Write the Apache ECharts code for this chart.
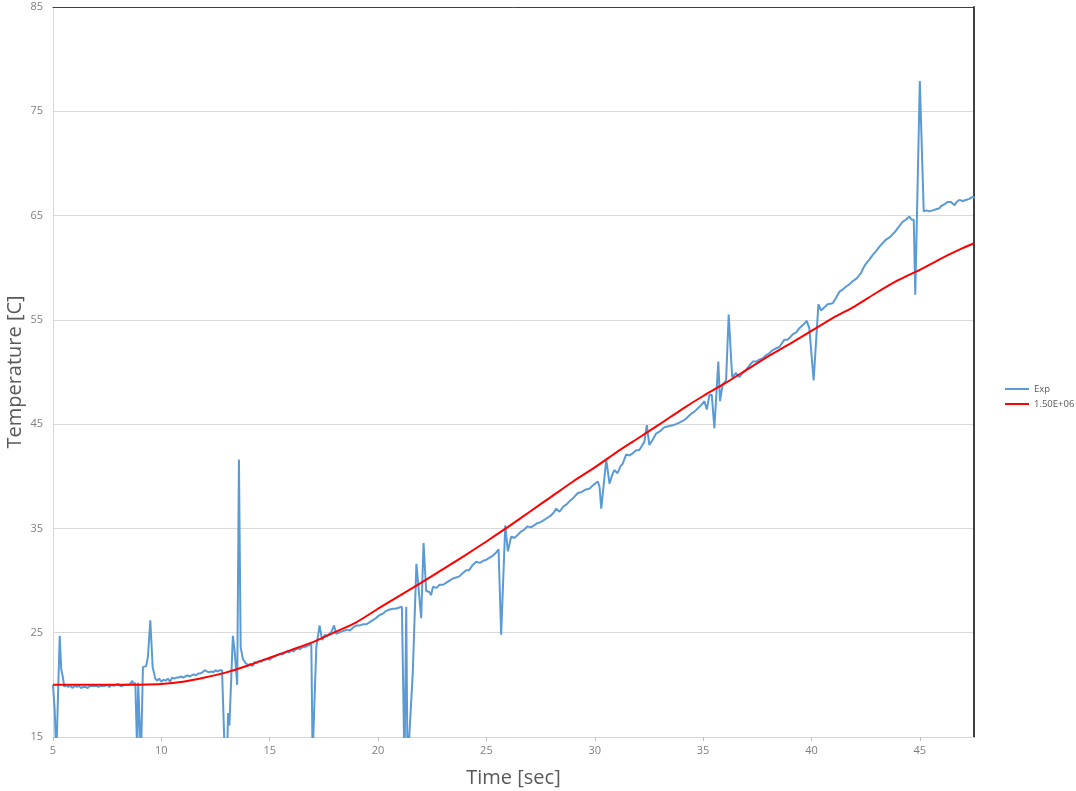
<!DOCTYPE html>
<html>
<head>
<meta charset="utf-8">
<script src="https://cdn.jsdelivr.net/npm/echarts@6/dist/echarts.min.js"></script>
<style>
html,body{margin:0;padding:0;background:#fff;}
#c{width:1076px;height:791px;}
</style>
</head>
<body>
<div id="c"></div>
<script>
// Measured series "Exp": time [s] and temperature [C]
var expTime = [
5.00,5.08,5.15,5.22,5.31,5.38,5.45,5.52,5.60,5.70,5.80,5.90,6.00,6.10,6.20,6.30,6.40,6.50,6.60,6.70,
6.80,6.90,7.00,7.10,7.20,7.30,7.40,7.50,7.60,7.70,7.80,7.90,8.00,8.10,8.20,8.30,8.40,8.50,8.60,8.66,
8.72,8.80,8.84,8.89,8.93,9.02,9.06,9.15,9.30,9.38,9.49,9.60,9.72,9.80,9.90,10.0,10.1,10.2,10.3,10.4,
10.5,10.6,10.7,10.8,10.9,11.0,11.1,11.2,11.3,11.4,11.5,11.6,11.7,11.8,11.9,12.0,12.1,12.2,12.3,12.4,
12.5,12.6,12.7,12.8,12.87,12.93,13.03,13.08,13.14,13.30,13.38,13.50,13.58,13.66,13.76,13.88,14.0,14.1,14.2,14.3,
14.4,14.5,14.6,14.7,14.8,14.9,15.0,15.1,15.2,15.3,15.4,15.5,15.6,15.7,15.8,15.9,16.0,16.1,16.2,16.3,
16.4,16.5,16.6,16.7,16.8,16.92,16.98,17.07,17.15,17.30,17.42,17.55,17.65,17.76,17.85,17.97,18.07,18.15,18.30,18.45,
18.55,18.70,18.85,19.00,19.15,19.30,19.45,19.60,19.76,19.90,20.07,20.20,20.38,20.50,20.68,20.80,20.95,21.10,21.16,21.22,
21.30,21.36,21.60,21.77,21.99,22.10,22.22,22.37,22.45,22.53,22.70,22.84,23.00,23.15,23.30,23.45,23.60,23.75,23.90,24.07,
24.20,24.37,24.53,24.70,24.85,25.00,25.15,25.30,25.45,25.56,25.68,25.87,25.99,26.14,26.30,26.45,26.60,26.75,26.90,27.05,
27.20,27.35,27.50,27.65,27.80,27.95,28.10,28.22,28.37,28.55,28.70,28.83,29.00,29.22,29.40,29.55,29.75,29.95,30.14,30.22,
30.30,30.53,30.68,30.80,30.90,31.05,31.20,31.29,31.45,31.60,31.75,31.91,32.05,32.14,32.29,32.40,32.52,32.70,32.83,33.00,
33.21,33.40,33.60,33.75,33.95,34.14,34.30,34.45,34.60,34.75,34.90,35.06,35.17,35.29,35.40,35.52,35.70,35.78,35.90,36.06,
36.18,36.34,36.52,36.67,36.82,36.98,37.13,37.29,37.45,37.60,37.75,37.90,38.05,38.21,38.40,38.52,38.60,38.75,38.90,39.00,
39.13,39.30,39.44,39.60,39.78,39.90,40.10,40.32,40.44,40.60,40.75,40.98,41.13,41.29,41.44,41.60,41.75,41.90,42.10,42.29,
42.40,42.52,42.68,42.82,42.98,43.13,43.30,43.44,43.60,43.74,43.88,43.98,44.10,44.20,44.35,44.52,44.62,44.72,44.79,45.00,
45.18,45.30,45.43,45.60,45.75,45.90,45.98,46.15,46.28,46.44,46.60,46.70,46.82,46.98,47.13,47.28,47.44,47.55
];
var expTemp = [
20.0,17.5,13.0,13.0,24.7,21.5,20.8,19.8,20.0,19.8,19.9,19.7,19.9,19.8,19.9,19.7,19.8,19.8,19.7,19.9,
19.9,19.9,19.9,19.8,19.9,19.9,19.9,20.0,19.8,20.0,19.9,20.0,20.1,19.9,19.9,20.0,20.0,20.0,20.2,20.4,
20.0,20.2,20.3,13.0,20.2,20.2,13.0,21.7,21.8,22.7,26.2,21.7,20.6,20.4,20.6,20.3,20.5,20.4,20.6,20.3,
20.7,20.6,20.7,20.7,20.8,20.7,20.8,20.9,20.8,20.9,21.0,20.9,21.1,21.1,21.2,21.4,21.3,21.2,21.3,21.2,
21.4,21.3,21.4,21.4,21.4,13.0,13.0,17.3,16.1,24.7,23.3,20.0,41.6,23.6,22.5,22.1,21.9,22.0,21.8,22.2,
22.1,22.3,22.2,22.4,22.4,22.5,22.4,22.6,22.7,22.8,22.9,23.0,22.9,23.1,23.2,23.1,23.3,23.2,23.4,23.5,
23.4,23.6,23.6,23.7,23.8,23.9,13.0,13.0,23.6,25.7,24.3,24.8,24.7,24.9,25.1,25.7,24.9,24.9,25.1,25.2,
25.3,25.2,25.5,25.7,25.7,25.8,25.8,26.0,26.2,26.4,26.7,26.8,27.1,27.2,27.3,27.3,27.4,27.5,27.4,12.0,
27.5,12.0,21.1,31.6,26.4,33.6,29.0,28.9,28.6,29.4,29.3,29.6,29.6,29.8,30.0,30.2,30.3,30.4,30.7,31.0,
31.0,31.5,31.8,31.7,31.9,32.0,32.2,32.4,32.7,33.0,24.8,35.3,32.8,34.2,34.1,34.4,34.7,34.9,35.2,35.1,
35.3,35.5,35.6,35.8,36.0,36.2,36.5,36.9,36.6,37.1,37.3,37.6,37.9,38.4,38.5,38.7,38.8,39.2,39.5,39.0,
36.9,41.6,39.3,40.1,40.6,40.3,41.0,41.2,42.1,42.0,42.2,42.5,42.5,42.4,43.3,44.9,43.0,43.6,44.1,44.3,
44.7,44.8,44.9,45.0,45.2,45.4,45.7,46.0,46.2,46.5,46.8,47.2,46.4,47.8,47.8,44.6,51.0,47.2,48.8,49.2,
55.5,49.5,49.9,49.5,49.9,50.2,50.6,51.0,51.0,51.2,51.3,51.6,51.8,52.1,52.3,52.4,52.5,53.1,53.1,53.3,
53.6,53.8,54.2,54.5,54.9,54.2,49.2,56.5,55.9,56.2,56.5,56.6,57.1,57.7,57.9,58.2,58.4,58.7,59.0,59.5,
60.0,60.4,60.8,61.2,61.6,62.0,62.4,62.7,62.9,63.2,63.5,63.8,64.1,64.4,64.6,64.9,64.6,64.6,57.4,77.9,
65.4,65.5,65.4,65.5,65.6,65.7,65.9,66.1,66.3,66.3,66.0,66.3,66.5,66.4,66.5,66.6,66.8,66.7
];
// Model series "1.50E+06"
var fitTime = [5,6,7,8,9,10,11,12,13,14,15,16,17,18,19,20,21,22,23,24,25,26,27,28,29,30,31,32,33,34,35,36,37,38,39,40,41,42,43,44,45,46,47,47.5];
var fitTemp = [20.0,20.0,20.0,20.0,20.02,20.08,20.3,20.7,21.2,21.85,22.6,23.35,24.1,25.05,26.0,27.3,28.55,29.8,31.1,32.4,33.75,35.15,36.6,38.05,39.5,40.85,42.3,43.65,45.0,46.4,47.7,48.9,50.2,51.5,52.7,53.95,55.2,56.3,57.6,58.8,59.8,60.9,61.9,62.35];
var seriesNames = ["Exp", "1.50E+06"];
var xTitle = "Time [sec]";
var yTitle = "Temperature [C]";

function pairs(xs, ys){ var out=[]; for(var i=0;i<xs.length;i++){ out.push([xs[i], ys[i]]); } return out; }

var FONT = "'Open Sans', 'Noto Sans', sans-serif";
var chart = echarts.init(document.getElementById('c'), null, {renderer:'canvas'});
chart.setOption({
  animation: false,
  backgroundColor: '#ffffff',
  textStyle: {fontFamily: FONT},
  grid: {left: 53, right: 102, top: 7, bottom: 54, containLabel: false, outerBoundsMode: 'none'},
  legend: {
    orient: 'vertical', left: 1005, top: 384, width: 120, padding: 0,
    itemWidth: 24, itemHeight: 10, itemGap: 5,
    textStyle: {fontSize: 9.5, color: '#595959', fontFamily: FONT, overflow: 'none', width: 80},
    data: [{name: seriesNames[0], icon: 'path://M0,0 L24,0 L24,2 L0,2 Z'}, {name: seriesNames[1], icon: 'path://M0,0 L24,0 L24,2 L0,2 Z'}]
  },
  xAxis: [{
    type: 'value', min: 5, max: 47.5, interval: 5,
    name: xTitle, nameLocation: 'middle', nameGap: 31, nameMoveOverlap: false,
    nameTextStyle: {fontSize: 20, color: '#595959', fontFamily: FONT},
    axisLine: {show: true, lineStyle: {color: '#d9d9d9', width: 1}},
    axisTick: {show: true, length: 4, lineStyle: {color: '#bfbfbf'}},
    axisLabel: {fontSize: 11, color: '#7f7f7f', margin: 8, showMaxLabel: false, fontFamily: FONT},
    splitLine: {show: false}
  }, {
    type: 'value', position: 'top', min: 5, max: 47.5,
    axisLine: {show: true, lineStyle: {color: '#404040', width: 1}},
    axisTick: {show: false}, axisLabel: {show: false}, splitLine: {show: false}
  }],
  yAxis: [{
    type: 'value', min: 15, max: 85, interval: 10,
    name: yTitle, nameLocation: 'middle', nameGap: 28, nameMoveOverlap: false,
    nameTextStyle: {fontSize: 20, color: '#595959', fontFamily: FONT},
    axisLine: {show: true, lineStyle: {color: '#d9d9d9', width: 1}},
    axisTick: {show: false},
    axisLabel: {fontSize: 11, color: '#7f7f7f', margin: 10, fontFamily: FONT},
    splitLine: {show: true, lineStyle: {color: '#d9d9d9', width: 1}}
  }, {
    type: 'value', position: 'right', min: 15, max: 85,
    axisLine: {show: true, lineStyle: {color: '#404040', width: 2}},
    axisTick: {show: false}, axisLabel: {show: false}, splitLine: {show: false}
  }],
  series: [{
    name: seriesNames[0], type: 'line', symbol: 'none', clip: true,
    data: pairs(expTime, expTemp),
    lineStyle: {color: '#5b9bd5', width: 2}, itemStyle: {color: '#5b9bd5'}, z: 3
  }, {
    name: seriesNames[1], type: 'line', symbol: 'none', clip: true, smooth: 0.2,
    data: pairs(fitTime, fitTemp),
    lineStyle: {color: '#ff0000', width: 2}, itemStyle: {color: '#ff0000'}, z: 4
  }]
});
</script>
</body>
</html>
